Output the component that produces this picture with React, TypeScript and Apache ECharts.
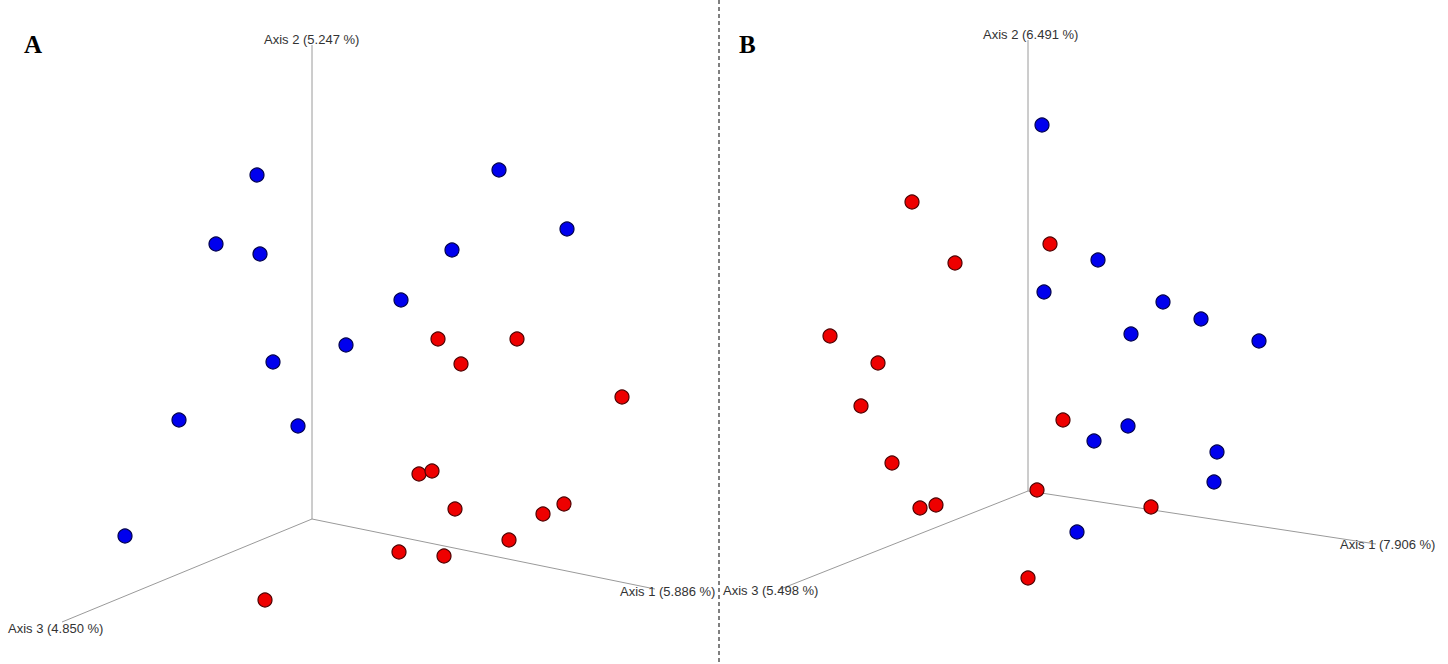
import React, { useEffect, useRef } from "react";
import * as echarts from "echarts";

// Projected ordination coordinates (screen-space projection of the 3D plots)
const panelAOrigin: [number, number] = [312, 519];
const panelAAxisEnds: [number, number][] = [
  [655, 589], // Axis 1
  [312, 45], // Axis 2
  [62, 622], // Axis 3
];
const panelABlue: [number, number][] = [
  [257, 175], [216, 244], [260, 254], [273, 362], [179, 420], [298, 426],
  [125, 536], [499, 170], [567, 229], [452, 250], [401, 300], [346, 345],
];
const panelARed: [number, number][] = [
  [438, 339], [517, 339], [461, 364], [622, 397], [419, 474], [432, 471],
  [455, 509], [564, 504], [543, 514], [509, 540], [399, 552], [444, 556],
  [265, 600],
];

const panelBOrigin: [number, number] = [1028, 491];
const panelBAxisEnds: [number, number][] = [
  [1376, 544], // Axis 1
  [1028, 40], // Axis 2
  [778, 590], // Axis 3
];
const panelBBlue: [number, number][] = [
  [1042, 125], [1098, 260], [1044, 292], [1163, 302], [1201, 319], [1131, 334],
  [1259, 341], [1128, 426], [1094, 441], [1217, 452], [1214, 482], [1077, 532],
];
const panelBRed: [number, number][] = [
  [912, 202], [1050, 244], [955, 263], [830, 336], [878, 363], [861, 406],
  [1063, 420], [892, 463], [920, 508], [936, 505], [1037, 490], [1151, 507],
  [1028, 578],
];

const panelALabels = ["Axis 1 (5.886 %)", "Axis 2 (5.247 %)", "Axis 3 (4.850 %)"];
const panelBLabels = ["Axis 1 (7.906 %)", "Axis 2 (6.491 %)", "Axis 3 (5.498 %)"];
const dividerLine: [number, number][] = [[719, 0], [719, 664]];

const W = 1448;
const H = 664;

function axisSeries(origin: [number, number], ends: [number, number][]) {
  return ends.map((end) => ({
    type: "line",
    data: [origin, end],
    symbol: "none",
    silent: true,
    lineStyle: { color: "#9a9a9a", width: 1 },
    z: 1,
  }));
}

function pointSeries(data: [number, number][], fill: string, border: string) {
  return {
    type: "scatter",
    data,
    symbol: "circle",
    symbolSize: 14,
    itemStyle: { color: fill, borderColor: border, borderWidth: 1.2, opacity: 1 },
    z: 3,
  };
}

const labelFont = { fontFamily: "Liberation Sans, Arial, sans-serif", fontSize: 13, fill: "#333" };
const letterFont = { fontFamily: "Liberation Serif, Times New Roman, serif", fontSize: 25, fontWeight: "bold", fill: "#000" };

export default function App() {
  const ref = useRef<HTMLDivElement>(null);

  useEffect(() => {
    if (!ref.current) return;
    const chart = echarts.init(ref.current, undefined, { renderer: "svg" });
    chart.setOption({
      animation: false,
      backgroundColor: "#ffffff",
      grid: { left: 0, right: 0, top: 0, bottom: 0 },
      xAxis: { type: "value", min: 0, max: W, show: false },
      yAxis: { type: "value", min: 0, max: H, inverse: true, show: false },
      series: [
        ...axisSeries(panelAOrigin, panelAAxisEnds),
        ...axisSeries(panelBOrigin, panelBAxisEnds),
        {
          type: "line",
          data: dividerLine,
          symbol: "none",
          silent: true,
          lineStyle: { color: "#000", width: 1, type: [4, 3] },
          z: 1,
        },
        pointSeries(panelABlue, "#0000ee", "#00004d"),
        pointSeries(panelARed, "#ee0000", "#4d0000"),
        pointSeries(panelBBlue, "#0000ee", "#00004d"),
        pointSeries(panelBRed, "#ee0000", "#4d0000"),
      ],
      graphic: [
        { type: "text", left: 24, top: 32, style: { text: "A", ...letterFont } },
        { type: "text", left: 739, top: 32, style: { text: "B", ...letterFont } },
        { type: "text", x: 620, y: 585, style: { text: panelALabels[0], ...labelFont }, z: 5 },
        { type: "text", x: 264, y: 33, style: { text: panelALabels[1], ...labelFont }, z: 5 },
        { type: "text", x: 8, y: 622, style: { text: panelALabels[2], ...labelFont }, z: 5 },
        { type: "text", x: 1340, y: 538, style: { text: panelBLabels[0], ...labelFont }, z: 5 },
        { type: "text", x: 983, y: 28, style: { text: panelBLabels[1], ...labelFont }, z: 5 },
        { type: "text", x: 723, y: 584, style: { text: panelBLabels[2], ...labelFont }, z: 5 },
      ],
    });
    return () => chart.dispose();
  }, []);

  return (
    <div
      ref={ref}
      style={{ position: "fixed", left: 0, top: 0, width: W, height: H, background: "#fff" }}
    />
  );
}
